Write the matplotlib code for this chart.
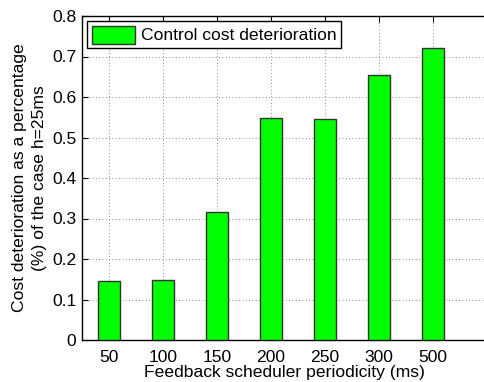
import matplotlib.pyplot as plt
import numpy as np

plt.rcParams['font.family'] = ['Liberation Sans', 'DejaVu Sans']

# periodicity of the feedback scheduler (ms)
periods = ['50', '100', '150', '200', '250', '300', '500']
# cost deterioration (%) relative to h=25ms
deterioration = [0.146, 0.148, 0.316, 0.548, 0.545, 0.654, 0.720]
yticks = [0, 0.1, 0.2, 0.3, 0.4, 0.5, 0.6, 0.7, 0.8]
ytick_labels = ['0', '0.1', '0.2', '0.3', '0.4', '0.5', '0.6', '0.7', '0.8']

fs = 12.6

fig = plt.figure(figsize=(4.84, 3.82), dpi=100)
# axes go slightly past the right border of the figure, as in the original
ax = fig.add_axes([82 / 484, 42 / 382, 405 / 484, 324 / 382])

x = np.arange(1, len(periods) + 1)
ax.bar(x, deterioration, width=0.4, color='#00ff00', edgecolor='#333333',
       linewidth=1.0, label='Control cost deterioration', zorder=3)

ax.set_xlim(0.5, 8.0)
ax.set_ylim(0, 0.8)
ax.set_xticks(x)
ax.set_xticklabels(periods)
ax.set_yticks(yticks)
ax.set_yticklabels(ytick_labels)

ax.grid(True, linestyle=(0, (1, 3)), color='#666666', linewidth=0.6, zorder=0)
ax.tick_params(direction='in', top=True, length=4, labelsize=fs)
ax.tick_params(axis='x', pad=7)
ax.tick_params(axis='y', pad=4)
for s in ax.spines.values():
    s.set_linewidth(1.0)

ax.set_xlabel('Feedback scheduler periodicity (ms)', fontsize=fs, labelpad=0)
ax.set_ylabel('Cost deterioration as a percentage\n(%) of the case h=25ms',
              fontsize=fs, labelpad=4, linespacing=1.35)

leg = ax.legend(loc='upper left', fontsize=fs, fancybox=False, framealpha=1,
                edgecolor='black', borderaxespad=0.3, handlelength=2.5,
                handleheight=1.2, borderpad=0.25, handletextpad=0.3)
leg.get_frame().set_linewidth(1.0)

fig.savefig('out.png', dpi=100)
